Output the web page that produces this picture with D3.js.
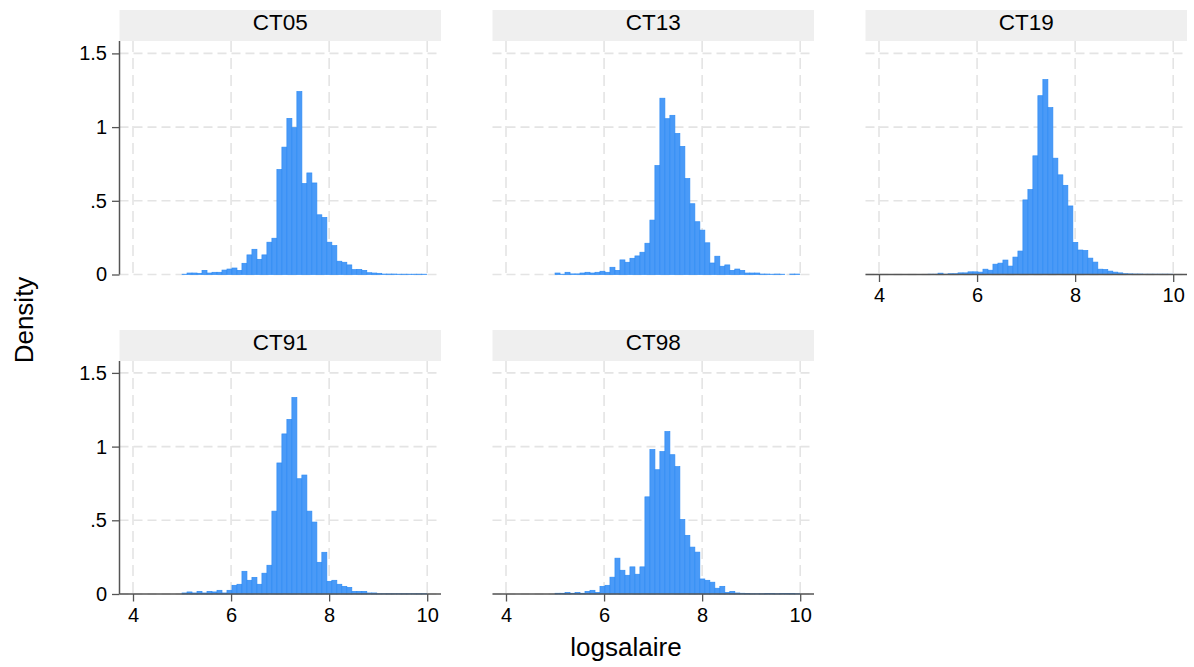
<!DOCTYPE html>
<html>
<head>
<meta charset="utf-8">
<script src="https://cdn.jsdelivr.net/npm/d3@7"></script>
<style>
  html, body { margin: 0; padding: 0; background: #fff; }
  svg { display: block; font-family: "Liberation Sans", Arial, Helvetica, sans-serif; }
</style>
</head>
<body>
<svg id="chart" width="1194" height="667"></svg>
<script>
// ---- data ----
const panels = ["CT05", "CT13", "CT19", "CT91", "CT98"];
const binStart = 5.0;
const binEnd = 9.99;
const binCount = 49;
const xTicks = [4, 6, 8, 10];
const xTickLabels = ["4", "6", "8", "10"];
const yTicks = [0, 0.5, 1, 1.5];
const yTickLabels = ["0", ".5", "1", "1.5"];
const xTitle = "logsalaire";
const yTitle = "Density";

const densCT05 = [0.002,0.01,0.01,0.008,0.028,0.01,0.015,0.015,0.03,0.037,0.044,0.028,0.076,0.133,0.171,0.103,0.133,0.219,0.246,0.712,0.864,1.059,0.996,1.241,0.617,0.689,0.621,0.405,0.387,0.219,0.196,0.09,0.083,0.065,0.033,0.035,0.028,0.012,0.01,0.008,0.003,0.003,0.003,0.002,0.002,0.002,0.002,0.002,0.002];
const densCT13 = [0.01,0.002,0.015,0.004,0.004,0.01,0.015,0.01,0.015,0.022,0.015,0.049,0.028,0.099,0.083,0.11,0.126,0.151,0.212,0.369,0.739,1.196,1.057,1.08,0.957,0.869,0.651,0.48,0.358,0.301,0.215,0.078,0.124,0.056,0.065,0.028,0.037,0.028,0.01,0.01,0.01,0.003,0.003,0.002,0.003,0.002,0,0.003,0.003];
const densCT19 = [0.002,0.002,0.009,0.002,0.005,0.005,0.011,0.011,0.018,0.018,0.016,0.036,0.029,0.07,0.077,0.098,0.057,0.118,0.159,0.506,0.576,0.805,1.213,1.322,1.132,0.789,0.676,0.605,0.465,0.218,0.166,0.163,0.111,0.084,0.036,0.034,0.023,0.016,0.011,0.005,0.004,0.003,0.003,0.002,0.002,0.002,0.002,0.002,0.002];
const densCT91 = [0.007,0.014,0.007,0.018,0.007,0.018,0.014,0.025,0.007,0.025,0.059,0.066,0.154,0.093,0.113,0.066,0.141,0.195,0.562,0.889,1.086,1.184,1.333,0.782,0.807,0.562,0.488,0.215,0.283,0.086,0.093,0.066,0.052,0.045,0.018,0.018,0.018,0.007,0.007,0.002,0.002,0.002,0.002,0.002,0.002,0.002,0.002,0.002,0.002];
const densCT98 = [0.005,0.005,0.011,0.005,0.011,0.005,0.018,0.025,0.011,0.052,0.059,0.114,0.243,0.161,0.127,0.184,0.134,0.184,0.659,0.98,0.843,0.966,1.102,0.945,0.864,0.505,0.398,0.318,0.284,0.102,0.093,0.08,0.039,0.052,0.011,0.018,0.007,0.005,0.003,0.002,0.002,0.002,0.003,0.003,0.002,0.003,0.003,0.003,0.002];
const densities = [densCT05, densCT13, densCT19, densCT91, densCT98];

// ---- layout ----
const colLeft = [119.5, 492.5, 865.5];
const panelW = 321.5;
const headerTop = [10, 330];
const headerH = 31;
const zeroY = [274.5, 594];
const yPixPerUnit = 147.4;
const xPadL = 13.5, xPadR = 13.8;

const gridColor = "#e4e4e4";
const axisColor = "#555555";
const textColor = "#000000";
const barFill = "#4a9af7";
const barStroke = "#2f8cf4";
const tickFont = 20;

const svg = d3.select("#chart");
const binW = (binEnd - binStart) / binCount;

panels.forEach((name, p) => {
  const col = p % 3, row = Math.floor(p / 3);
  const left = colLeft[col];
  const right = left + panelW;
  const top = headerTop[row];
  const plotTop = top + headerH;
  const y0 = zeroY[row];

  const x = d3.scaleLinear().domain([4, 10]).range([left + xPadL, right - xPadR]);
  const y = d3.scaleLinear().domain([0, 1.5]).range([y0, y0 - 1.5 * yPixPerUnit]);

  const g = svg.append("g");

  // header strip
  g.append("rect").attr("x", left).attr("y", top).attr("width", panelW).attr("height", headerH)
    .attr("fill", "#efefef");
  g.append("text").attr("x", (left + right) / 2).attr("y", top + 19.8)
    .attr("text-anchor", "middle").attr("font-size", 22.5).attr("fill", textColor).text(name);

  // gridlines
  g.selectAll(".hg").data(yTicks).join("line")
    .attr("x1", left).attr("x2", right)
    .attr("y1", d => y(d)).attr("y2", d => y(d))
    .attr("stroke", gridColor).attr("stroke-width", 1.6).attr("stroke-dasharray", "9,5");
  g.selectAll(".vg").data(xTicks).join("line")
    .attr("x1", d => x(d)).attr("x2", d => x(d))
    .attr("y1", plotTop).attr("y2", y0)
    .attr("stroke", gridColor).attr("stroke-width", 1.6).attr("stroke-dasharray", "11,6");

  // bars
  const bins = densities[p].map((v, i) => ({ x0: binStart + i * binW, x1: binStart + (i + 1) * binW, v }));
  g.selectAll(".bar").data(bins.filter(b => b.v > 0)).join("rect")
    .attr("x", d => x(d.x0))
    .attr("width", d => x(d.x1) - x(d.x0))
    .attr("y", d => y(d.v))
    .attr("height", d => y0 - y(d.v))
    .attr("fill", barFill).attr("stroke", barStroke).attr("stroke-width", 0.7);

  // y axis (first column)
  if (col === 0) {
    const ya = g.append("g").attr("transform", `translate(${left},0)`)
      .call(d3.axisLeft(y).tickValues(yTicks).tickFormat((d, i) => yTickLabels[i]).tickSize(7.5).tickPadding(5));
    ya.select(".domain").attr("d", `M0,${plotTop}V${y0}`).attr("stroke", axisColor).attr("stroke-width", 1.5);
    ya.selectAll(".tick line").attr("stroke", axisColor).attr("stroke-width", 1.3);
    ya.selectAll(".tick text").attr("font-size", tickFont).attr("fill", textColor)
      .attr("font-family", "Liberation Sans, Arial, sans-serif");
  }

  // x axis (panels with nothing below)
  if (row === 1 || col === 2) {
    const xa = g.append("g").attr("transform", `translate(0,${y0})`)
      .call(d3.axisBottom(x).tickValues(xTicks).tickFormat((d, i) => xTickLabels[i]).tickSize(7.5).tickPadding(6));
    xa.select(".domain").attr("d", `M${left},0H${right}`).attr("stroke", axisColor).attr("stroke-width", 1.5);
    xa.selectAll(".tick line").attr("stroke", axisColor).attr("stroke-width", 1.3);
    xa.selectAll(".tick text").attr("font-size", tickFont).attr("fill", textColor)
      .attr("font-family", "Liberation Sans, Arial, sans-serif");
  }
});

// axis titles
svg.append("text").attr("x", 626).attr("y", 656).attr("text-anchor", "middle")
  .attr("font-size", 26).attr("fill", textColor).text(xTitle);
svg.append("text").attr("transform", "translate(33,320) rotate(-90)").attr("text-anchor", "middle")
  .attr("font-size", 26).attr("fill", textColor).text(yTitle);
</script>
</body>
</html>
